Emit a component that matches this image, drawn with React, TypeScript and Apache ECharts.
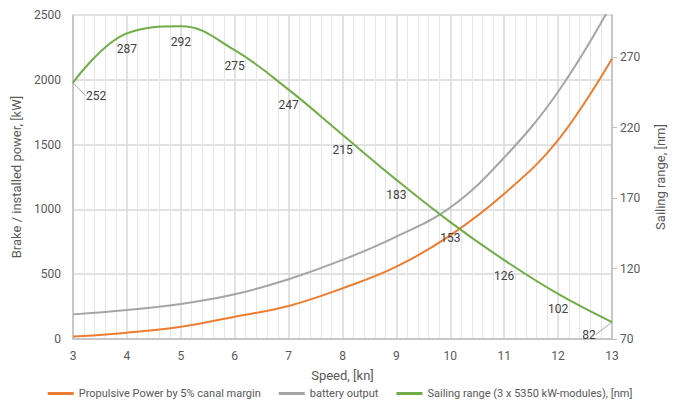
import React, { useEffect, useRef } from "react";
import * as echarts from "echarts";

const speeds = [3, 4, 5, 6, 7, 8, 9, 10, 11, 12, 13];
const propulsivePower = [19, 49, 95, 172, 255, 391, 558, 800, 1120, 1535, 2163];
const batteryOutput = [190, 224, 270, 345, 461, 610, 790, 1015, 1400, 1908, 2590];
const sailingRange = [252, 287, 292, 275, 247, 215, 183, 153, 126, 102, 82];

const seriesNames = [
  "Propulsive Power by 5% canal margin",
  "battery output",
  "Sailing range (3 x 5350 kW-modules), [nm]",
];

const FONT = "Roboto, 'Open Sans', sans-serif";

export default function App() {
  const ref = useRef<HTMLDivElement>(null);
  useEffect(() => {
    if (!ref.current) return;
    const chart = echarts.init(ref.current, undefined, { renderer: "svg" });
    const toPairs = (vals: number[]) => speeds.map((s, i) => [s, vals[i]]);
    const last = speeds.length - 1;
    const rangeData = speeds.map((s, i) => ({
      value: [s, sailingRange[i]],
      labelLine: { show: i === 0 || i === last },
    }));
    chart.setOption({
      animation: false,
      textStyle: { fontFamily: FONT },
      grid: { left: 73, right: 68, top: 15, bottom: 71 },
      legend: {
        bottom: 6,
        left: "center",
        icon: "rect",
        itemWidth: 26,
        itemHeight: 3,
        itemGap: 18,
        textStyle: { fontSize: 11, color: "#595959", fontFamily: FONT },
        data: seriesNames,
      },
      xAxis: {
        type: "value",
        min: 3,
        max: 13,
        interval: 1,
        name: "Speed, [kn]",
        nameLocation: "middle",
        nameGap: 30,
        nameTextStyle: { fontSize: 13, color: "#595959" },
        axisLine: { show: true, lineStyle: { color: "#bfbfbf", width: 1.5 } },
        axisTick: { show: false },
        axisLabel: { fontSize: 12, color: "#595959", margin: 11 },
        splitLine: { show: true, lineStyle: { color: "#d9d9d9", width: 1.5 } },
        minorTick: { show: false, splitNumber: 5 },
        minorSplitLine: { show: true, lineStyle: { color: "#e6e6e6", width: 1 } },
      },
      yAxis: [
        {
          type: "value",
          min: 0,
          max: 2500,
          interval: 500,
          name: "Brake / installed power, [kW]",
          nameLocation: "middle",
          nameGap: 46,
          nameRotate: 90,
          nameTextStyle: { fontSize: 13, color: "#595959" },
          axisLine: { show: true, lineStyle: { color: "#bfbfbf", width: 1.5 } },
          axisTick: { show: false },
          axisLabel: {
            fontSize: 12,
            color: "#595959",
            margin: 12,
            formatter: (v: number) => String(v),
          },
          splitLine: { show: true, lineStyle: { color: "#d9d9d9", width: 1.5 } },
        },
        {
          type: "value",
          min: 70,
          max: 300,
          interval: 50,
          position: "right",
          name: "Sailing range, [nm]",
          nameLocation: "middle",
          nameGap: 42,
          nameRotate: 90,
          nameTextStyle: { fontSize: 13, color: "#595959" },
          axisLine: { show: true, lineStyle: { color: "#bfbfbf", width: 1.5 } },
          axisTick: { show: true, length: 5, lineStyle: { color: "#bfbfbf" } },
          axisLabel: {
            fontSize: 12,
            color: "#595959",
            margin: 8,
            showMaxLabel: false,
            formatter: (v: number) => String(v),
          },
          splitLine: { show: false },
        },
      ],
      series: [
        {
          name: seriesNames[0],
          type: "line",
          data: toPairs(propulsivePower),
          smooth: 0.4,
          symbol: "none",
          lineStyle: { color: "#ED7D31", width: 2 },
          itemStyle: { color: "#ED7D31" },
        },
        {
          name: seriesNames[1],
          type: "line",
          data: toPairs(batteryOutput),
          smooth: 0.4,
          symbol: "none",
          lineStyle: { color: "#A5A5A5", width: 2 },
          itemStyle: { color: "#A5A5A5" },
        },
        {
          name: seriesNames[2],
          type: "line",
          yAxisIndex: 1,
          data: rangeData,
          smooth: 0.4,
          symbol: "circle",
          symbolSize: 1,
          showSymbol: true,
          lineStyle: { color: "#70AD47", width: 2 },
          itemStyle: { color: "#70AD47" },
          label: {
            show: true,
            position: "bottom",
            distance: 9,
            fontSize: 12,
            color: "#404040",
            formatter: (p: any) => String(p.value[1]),
          },
          labelLine: { show: false, lineStyle: { color: "#a6a6a6", width: 1 } },
          labelLayout: (p: any) => {
            if (p.dataIndex === 0) return { dx: 23, dy: -2 };
            if (p.dataIndex === last) return { dx: -23, dy: -3 };
            return {};
          },
        },
      ],
    });
    return () => chart.dispose();
  }, []);
  return (
    <div
      ref={ref}
      style={{ position: "fixed", left: 0, top: 0, width: 680, height: 410, background: "#fff" }}
    />
  );
}
